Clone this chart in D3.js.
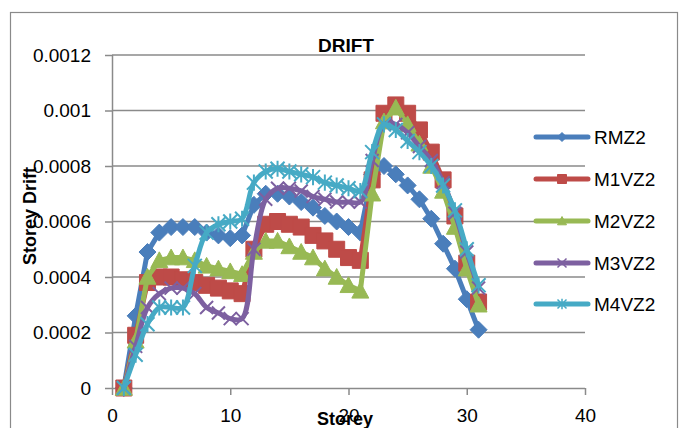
<!DOCTYPE html>
<html><head><meta charset="utf-8">
<script src="https://cdn.jsdelivr.net/npm/d3@7"></script>
<style>
body{margin:0;background:#fff}
svg{display:block}
text{font-family:"Liberation Sans",Arial,sans-serif;fill:#000}
</style>
</head><body>
<svg id="c" width="684" height="428"></svg>
<script>
const storeys = [1,2,3,4,5,6,7,8,9,10,11,12,13,14,15,16,17,18,19,20,21,22,23,24,25,26,27,28,29,30,31];
const RMZ2  = [0,0.00026,0.00049,0.00056,0.00058,0.00058,0.00058,0.00056,0.00055,0.00054,0.00055,0.00066,0.0007,0.0007,0.00069,0.00067,0.00065,0.00062,0.0006,0.00058,0.00056,0.00077,0.0008,0.00077,0.00073,0.00068,0.00061,0.00052,0.00043,0.00032,0.00021];
const M1VZ2 = [0,0.00019,0.00038,0.0004,0.0004,0.00039,0.00038,0.00037,0.00036,0.00035,0.00034,0.0005,0.00059,0.0006,0.00059,0.00058,0.00055,0.00053,0.0005,0.00047,0.00046,0.00075,0.00099,0.00102,0.00099,0.00093,0.00085,0.00075,0.00062,0.00045,0.00031];
const M2VZ2 = [0,0.00017,0.0004,0.00046,0.00047,0.00047,0.00046,0.00044,0.00043,0.00042,0.00041,0.00049,0.00053,0.00053,0.00051,0.00049,0.00047,0.00043,0.0004,0.00037,0.00035,0.0007,0.00096,0.00101,0.00095,0.00088,0.0008,0.00071,0.00058,0.00043,0.0003];
const M3VZ2 = [0,0.00015,0.00029,0.00034,0.00036,0.00036,0.00034,0.00029,0.00027,0.00025,0.00025,0.0005,0.00068,0.00072,0.00072,0.00071,0.00069,0.00068,0.00067,0.00067,0.00067,0.00082,0.00095,0.00095,0.00092,0.00087,0.00082,0.00074,0.00063,0.00049,0.00036];
const M4VZ2 = [0,0.00012,0.00023,0.00029,0.00029,0.00029,0.00044,0.00056,0.00059,0.0006,0.00061,0.00074,0.00078,0.00079,0.00078,0.00077,0.00076,0.00074,0.00073,0.00072,0.00071,0.00085,0.00095,0.00093,0.00089,0.00085,0.0008,0.00073,0.00064,0.0005,0.00037];
const seriesNames = ["RMZ2","M1VZ2","M2VZ2","M3VZ2","M4VZ2"];
const seriesValues = [RMZ2, M1VZ2, M2VZ2, M3VZ2, M4VZ2];
const colors = ["#4A7EBB","#BE4B48","#98B954","#7D60A0","#46AAC5"];
const markerTypes = ["diamond","square","triangle","x","star"];
const smoothFlags = [false,false,false,true,true];
const xTicks = [0,10,20,30,40];
const yTicks = [0,0.0002,0.0004,0.0006,0.0008,0.001,0.0012];
const yTickLabels = ["0","0.0002","0.0004","0.0006","0.0008","0.001","0.0012"];
const chartTitle = "DRIFT", xTitle = "Storey", yTitle = "Storey Drift";

const svg = d3.select("#c");
const grid = "#8a8a8a";
const x = d3.scaleLinear().domain([0,40]).range([112,585]);
const y = d3.scaleLinear().domain([0,0.0012]).range([388,55]);

// outer border
svg.append("rect").attr("x",10.5).attr("y",12.5).attr("width",667).attr("height",440)
  .attr("fill","none").attr("stroke",grid).attr("stroke-width",1.2);

// gridlines
svg.append("g").selectAll("line").data(yTicks.slice(1)).join("line")
  .attr("x1",112).attr("x2",585).attr("y1",d=>y(d)).attr("y2",d=>y(d))
  .attr("stroke",grid).attr("stroke-width",1.5);

// axes
const yAxis = d3.axisLeft(y).tickValues(yTicks).tickSize(7).tickPadding(14)
  .tickFormat((d,i)=>yTickLabels[i]);
const gy = svg.append("g").attr("transform","translate(112,0)").call(yAxis);
const xAxis = d3.axisBottom(x).tickValues(xTicks).tickSize(7).tickPadding(14);
const gx = svg.append("g").attr("transform","translate(0,388)").call(xAxis);
[gx,gy].forEach(g=>{
  g.select(".domain").attr("stroke",grid).attr("stroke-width",1.5);
  g.selectAll(".tick line").attr("stroke",grid).attr("stroke-width",1.5);
  g.selectAll(".tick text").attr("font-size",19).attr("font-family","Liberation Sans, Arial, sans-serif").attr("fill","#000");
});
gx.select(".domain").attr("d","M112,0.5H585");
gy.select(".domain").attr("d","M0.5,388V55");

function markerPath(t, s){
  const h=s/2;
  switch(t){
    case "diamond": return `M0,${-h}L${h},0L0,${h}L${-h},0Z`;
    case "square": return `M${-h},${-h}H${h}V${h}H${-h}Z`;
    case "triangle": return `M0,${-h}L${h},${h*0.85}L${-h},${h*0.85}Z`;
    case "x": return `M${-h},${-h}L${h},${h}M${-h},${h}L${h},${-h}`;
    case "star": return `M${-h},${-h}L${h},${h}M${-h},${h}L${h},${-h}M0,${-h*1.15}V${h*1.15}`;
  }
}
const markerSize = [17,16,17,13,14];

// series
seriesValues.forEach((vals,si)=>{
  const pts = storeys.map((s,i)=>[s, vals[i]]);
  const line = d3.line().x(d=>x(d[0])).y(d=>y(d[1]))
    .curve(smoothFlags[si] ? d3.curveCatmullRom.alpha(0.5) : d3.curveLinear);
  const g = svg.append("g");
  g.append("path").attr("d",line(pts)).attr("fill","none").attr("stroke",colors[si])
    .attr("stroke-width",5).attr("stroke-linejoin","round").attr("stroke-linecap","round");
  const t = markerTypes[si];
  const stroked = (t==="x"||t==="star");
  g.selectAll("path.m").data(pts).join("path").attr("class","m")
    .attr("transform",d=>`translate(${x(d[0])},${y(d[1])})`)
    .attr("d",markerPath(t, markerSize[si]))
    .attr("fill",stroked?"none":colors[si])
    .attr("stroke",colors[si]).attr("stroke-width",stroked?2:1);
});

// title
svg.append("text").attr("x",346).attr("y",52).attr("text-anchor","middle")
  .attr("font-size",19).attr("font-weight","bold").text(chartTitle);
// axis titles
svg.append("text").attr("x",345).attr("y",425).attr("text-anchor","middle")
  .attr("font-size",18).attr("font-weight","bold").text(xTitle);
svg.append("text").attr("transform","translate(36,216) rotate(-90)").attr("text-anchor","middle")
  .attr("font-size",18).attr("font-weight","bold").text(yTitle);

// legend
const legY = [137,179,221,263,304];
const lg = svg.append("g");
seriesNames.forEach((n,i)=>{
  const g = lg.append("g").attr("transform",`translate(0,${legY[i]})`);
  g.append("line").attr("x1",536).attr("x2",588).attr("y1",0).attr("y2",0)
    .attr("stroke",colors[i]).attr("stroke-width",5).attr("stroke-linecap","round");
  const t = markerTypes[i];
  const stroked = (t==="x"||t==="star");
  g.append("path").attr("transform","translate(562,0)").attr("d",markerPath(t, 9))
    .attr("fill",stroked?"none":colors[i]).attr("stroke",colors[i]).attr("stroke-width",stroked?1.5:1);
  g.append("text").attr("x",594).attr("y",0).attr("dy","0.35em").attr("font-size",19).text(n);
});
</script>
</body></html>
